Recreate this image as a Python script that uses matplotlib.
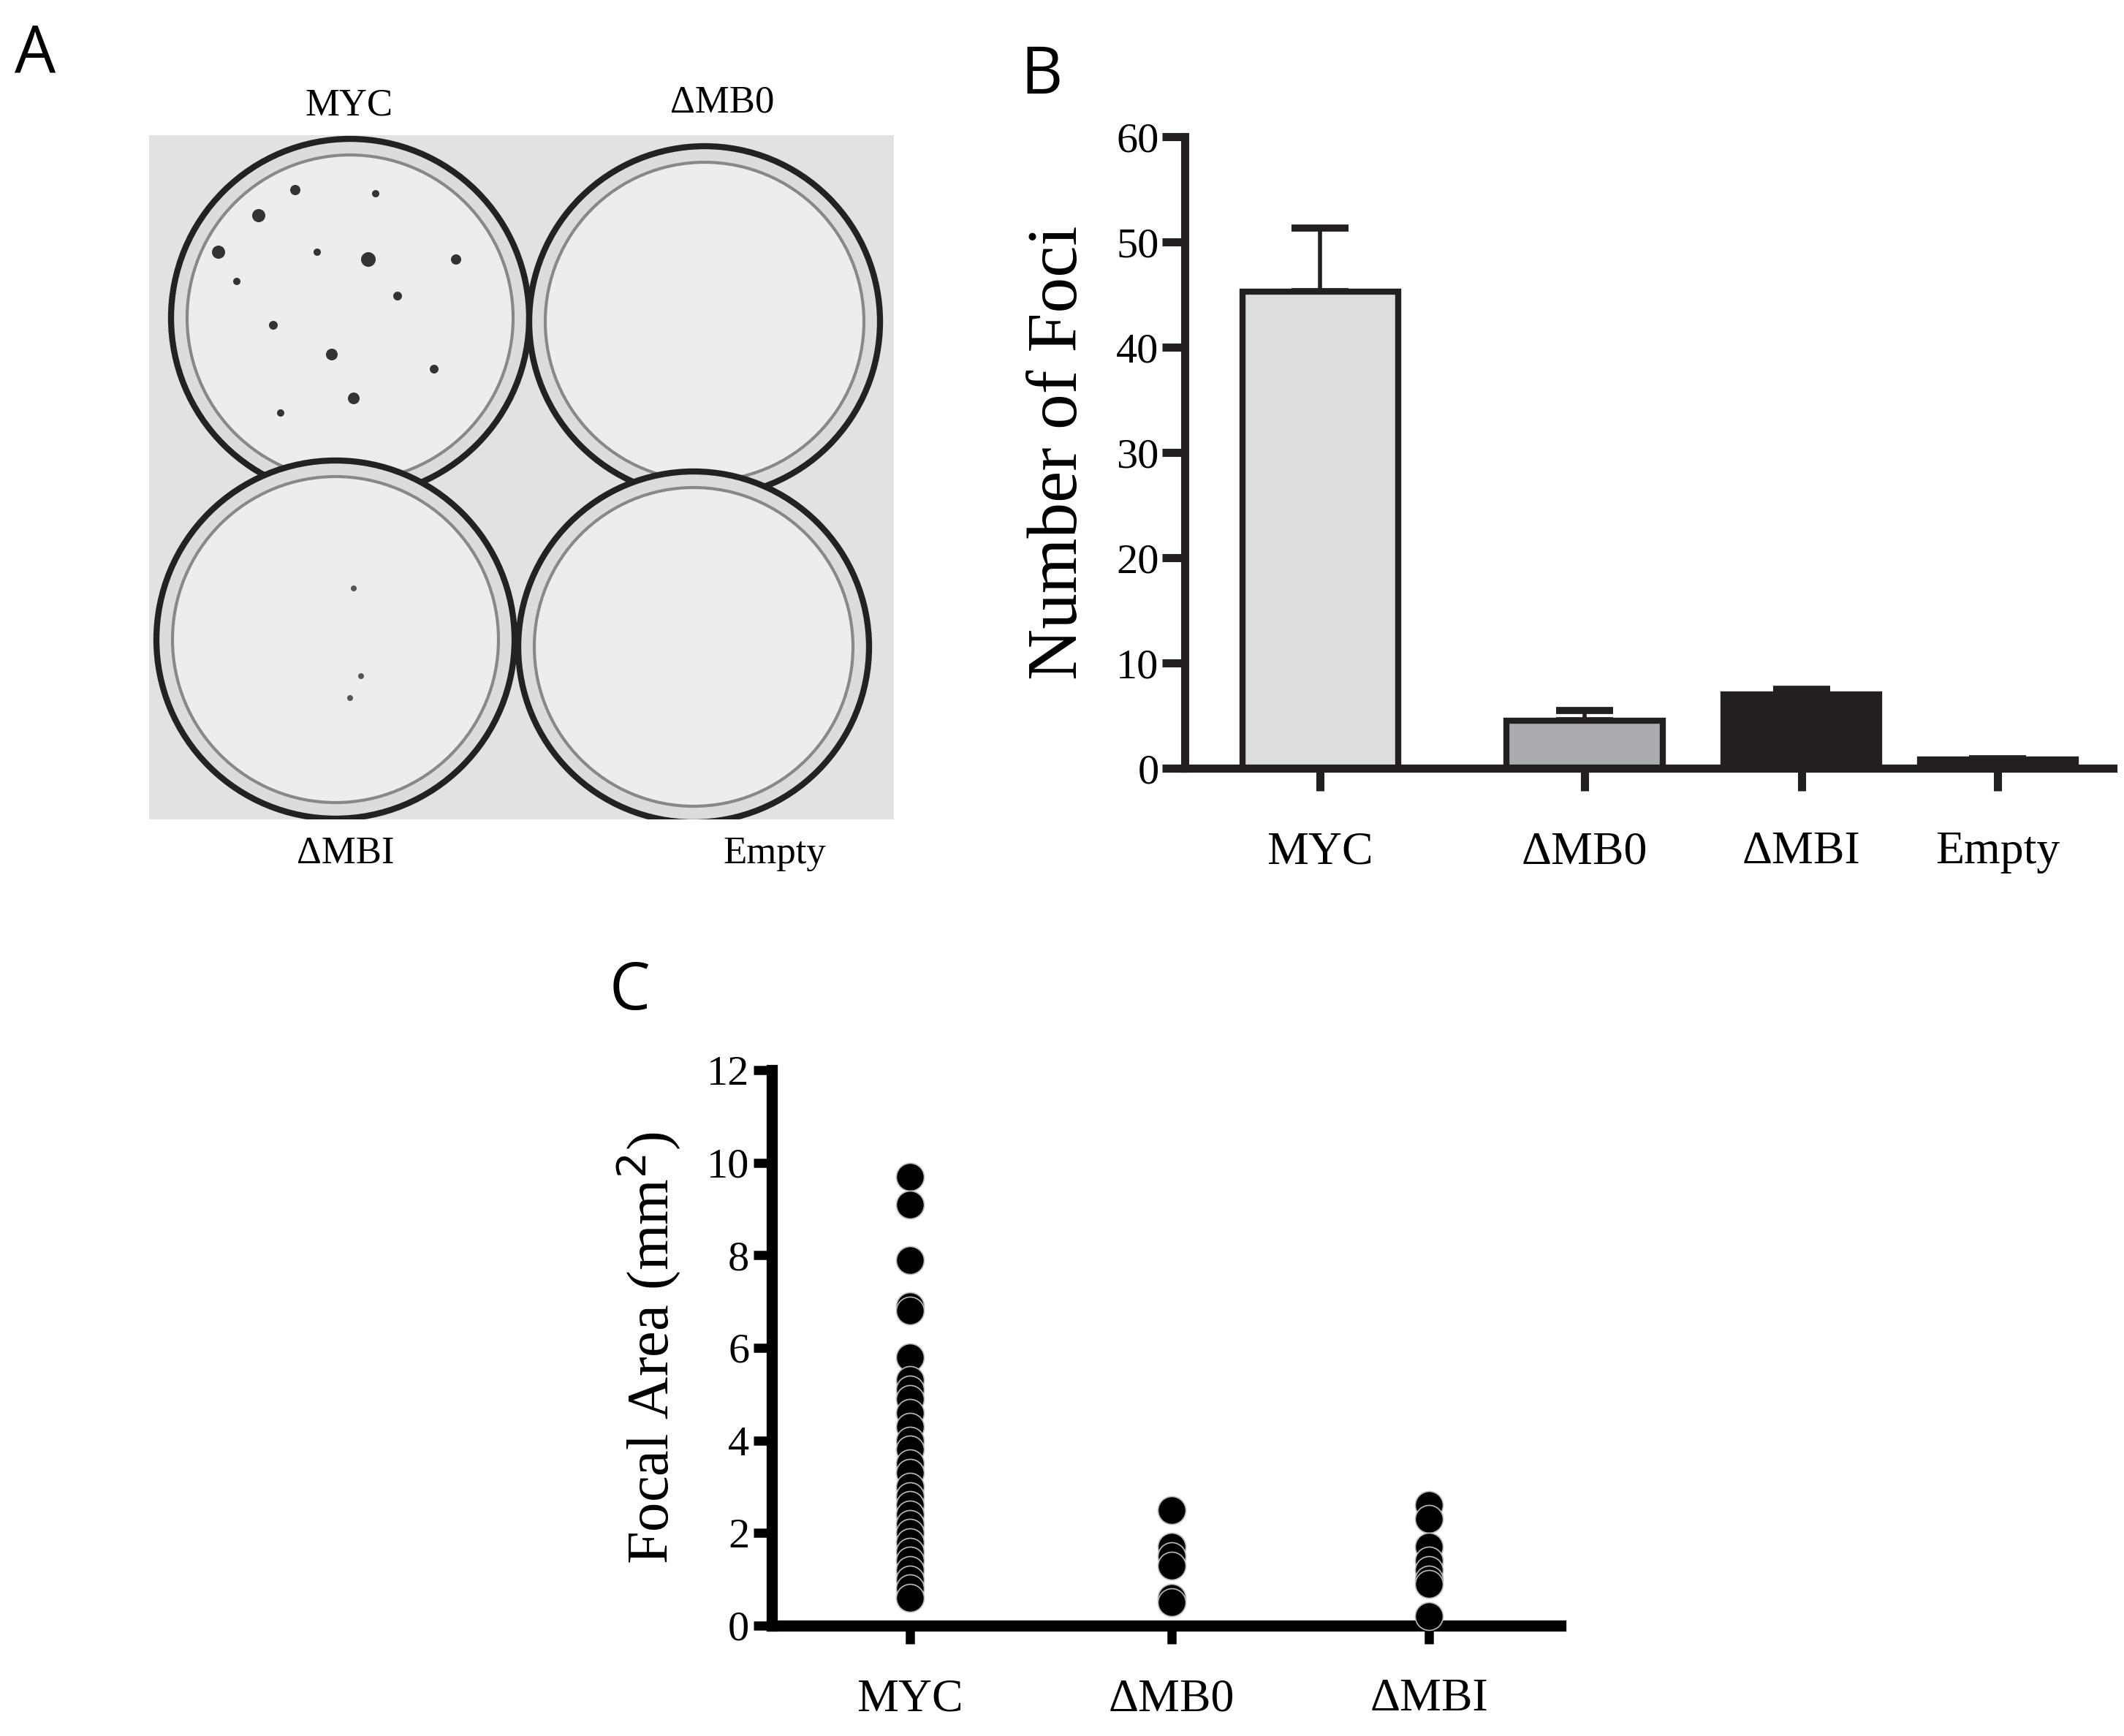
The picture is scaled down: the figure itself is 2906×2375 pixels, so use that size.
import matplotlib
matplotlib.use("Agg")
import matplotlib.pyplot as plt
from matplotlib.patches import Circle, Rectangle
import numpy as np

# ---- data ----
bar_cats = ["MYC", "ΔMB0", "ΔMBI", "Empty"]
bar_vals = [45.3, 4.5, 7.0, 0.8]
bar_err = [6.0, 1.0, 0.5, 0.1]
bar_colors = ["#dcdddf", "#a9abae", "#231f20", "#231f20"]
bar_pos = [9.75, 11.7, 13.3, 14.75]

sc_cats = ["MYC", "ΔMB0", "ΔMBI"]
sc_pos = [6.72, 8.65, 10.55]
myc_area = [9.7, 9.1, 7.9, 6.9, 6.8, 5.8, 5.3, 5.1, 4.9, 4.6, 4.3, 4.0, 3.8, 3.5,
            3.3, 3.0, 2.8, 2.6, 2.4, 2.2, 2.0, 1.8, 1.6, 1.4, 1.2, 1.0, 0.8, 0.6]
mb0_area = [2.5, 1.7, 1.5, 1.3, 0.6, 0.5]
mbi_area = [2.6, 2.3, 1.7, 1.4, 1.2, 1.0, 0.9, 0.2]
sc_data = [myc_area, mb0_area, mbi_area]

serif = "Liberation Serif"
sans = "Open Sans"

fig = plt.figure(figsize=(29.06, 23.75), dpi=100)
W, H = 2906, 2375
def rect(x0, y0, x1, y1):
    return [x0 / W, 1 - y1 / H, (x1 - x0) / W, (y1 - y0) / H]

# ---- panel A (photo approximation) ----
axA = fig.add_axes(rect(204, 185, 1223, 1121))
axA.set_xlim(0, 1019); axA.set_ylim(936, 0); axA.axis("off")
axA.add_patch(Rectangle((0, 0), 1019, 936, color="#e2e2e2"))
dishes = [(275, 250, 245), (760, 255, 240), (255, 690, 245), (745, 700, 240)]
for cx, cy, r in dishes:
    axA.add_patch(Circle((cx, cy), r, facecolor="#dcdcdc", edgecolor="#222222", lw=6))
    axA.add_patch(Circle((cx, cy), r - 22, facecolor="#ededed", edgecolor="#888888", lw=3))
rng_pts = [(150, 110, 9), (200, 75, 7), (300, 170, 10), (250, 300, 8), (170, 260, 6),
           (280, 360, 8), (340, 220, 6), (120, 200, 5), (390, 320, 6), (230, 160, 5),
           (310, 80, 5), (180, 380, 5), (420, 170, 7), (95, 160, 9)]
for x, y, s in rng_pts:
    axA.add_patch(Circle((x, y), s, facecolor="#333333", edgecolor="none"))
for x, y in [(290, 740), (275, 770), (280, 620)]:
    axA.add_patch(Circle((x, y), 4, facecolor="#555555", edgecolor="none"))
for t, x, y in [("MYC", 478, 145), ("ΔMB0", 988, 140), ("ΔMBI", 473, 1168), ("Empty", 1060, 1168)]:
    fig.text(x / W, 1 - y / H, t, family=serif, fontsize=38, ha="center", va="center")

# ---- panel B ----
axB = fig.add_axes(rect(1621, 187, 2891, 1051))
axB.bar(bar_pos, bar_vals, width=1.15, color=bar_colors, edgecolor="#231f20", linewidth=6, zorder=2)
axB.errorbar(bar_pos, bar_vals, yerr=[[0] * 4, bar_err], fmt="none", ecolor="#231f20",
             elinewidth=4, capsize=28, capthick=7, zorder=1)
axB.set_xlim(8.75, 15.6)
axB.set_ylim(0, 60)
axB.set_yticks(range(0, 61, 10))
axB.set_xticks(bar_pos)
axB.set_xticklabels(bar_cats)
for s in ["top", "right"]:
    axB.spines[s].set_visible(False)
for s in ["left", "bottom"]:
    axB.spines[s].set_linewidth(8); axB.spines[s].set_color("#231f20")
axB.spines["left"].set_bounds(0, 60)
axB.tick_params(axis="both", width=8, length=22, color="#231f20")
axB.tick_params(axis="x", pad=40, labelsize=46)
axB.tick_params(axis="y", labelsize=42)
for lab in axB.get_xticklabels() + axB.get_yticklabels():
    lab.set_family(serif)
axB.set_ylabel("Number of Foci", family=serif, fontsize=70, labelpad=24)

# ---- panel C ----
axC = fig.add_axes(rect(1056, 1464, 2135, 2224))
for p, vals in zip(sc_pos, sc_data):
    axC.scatter([p] * len(vals), vals, s=750, color="black", edgecolors="#bbbbbb",
                linewidths=1.2, zorder=3, clip_on=False)
axC.set_xlim(5.7, 11.52)
axC.set_ylim(0, 12)
axC.set_yticks(range(0, 13, 2))
axC.set_xticks(sc_pos)
axC.set_xticklabels(sc_cats)
for s in ["top", "right"]:
    axC.spines[s].set_visible(False)
for s in ["left", "bottom"]:
    axC.spines[s].set_linewidth(11)
axC.tick_params(axis="both", width=9, length=18)
axC.tick_params(axis="x", pad=34, labelsize=46)
axC.tick_params(axis="y", labelsize=42, pad=4)
for lab in axC.get_xticklabels() + axC.get_yticklabels():
    lab.set_family(serif)
axC.set_ylabel("Focal Area (mm$^2$)", family=serif, fontsize=58, labelpad=24)

# panel letters
for t, x, y in [("A", 48, 75), ("B", 1425, 105), ("C", 862, 1358)]:
    fig.text(x / W, 1 - y / H, t, family=sans, fontsize=64, ha="center", va="center")

fig.savefig("out.png", dpi=100, facecolor="white")
